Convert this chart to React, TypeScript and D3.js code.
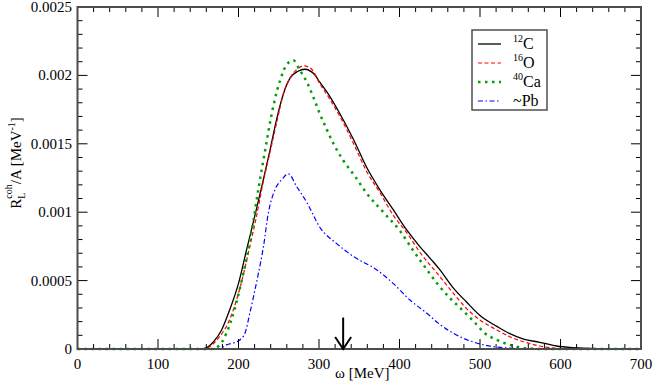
import React from 'react'
import * as d3 from 'd3'

// omega grid + response values, one pair of arrays per nucleus
const omegaC = [0, 140, 150, 158, 169, 179, 189, 200, 210, 220, 229, 239, 247, 256, 264, 274, 282, 295, 301, 312, 326, 343, 359, 376, 392, 409, 425, 440, 450, 467, 483, 500, 521, 537, 554, 574, 595, 616, 650, 700]
const valuesC = [0, 0, 0, 0.000005, 0.000053, 0.000139, 0.000285, 0.00048, 0.000724, 0.000967, 0.00119, 0.00145, 0.00167, 0.00187, 0.00198, 0.00203, 0.002045, 0.002003, 0.00195, 0.00186, 0.00172, 0.00153, 0.00133, 0.00116, 0.00102, 0.00087, 0.00075, 0.00065, 0.00058, 0.000445, 0.000345, 0.000245, 0.000165, 0.000112, 0.000073, 0.000049, 0.000022, 0.00001, 0.000003, 0]

const omegaO = [0, 155, 165, 175, 187, 200, 214, 222, 230, 240, 248, 256, 265, 274, 281, 290, 301, 313, 326, 343, 359, 376, 392, 409, 425, 450, 467, 483, 500, 521, 537, 554, 574, 595, 620, 700]
const valuesO = [0, 0, 0.00002, 0.00008, 0.000188, 0.000407, 0.000748, 0.00096, 0.0012, 0.00146, 0.00167, 0.00187, 0.00199, 0.00205, 0.00207, 0.00205, 0.00194, 0.00183, 0.0017, 0.0015, 0.0013, 0.00114, 0.00098, 0.00085, 0.00071, 0.00053, 0.000407, 0.000297, 0.000212, 0.000139, 0.00009, 0.000053, 0.000022, 0.000005, 0, 0]

const omegaCa = [0, 165, 175, 185, 196, 206, 216, 225, 233, 239, 245, 252, 260, 268, 276, 285, 293, 301, 310, 318, 330, 345, 359, 380, 401, 417, 434, 448, 463, 479, 494, 506, 521, 537, 558, 580, 700]
const valuesCa = [0, 0, 0.00002, 0.000115, 0.00031, 0.000553, 0.000846, 0.00118, 0.00145, 0.00165, 0.00182, 0.00197, 0.00208, 0.00211, 0.00204, 0.00195, 0.00184, 0.00172, 0.0016, 0.0015, 0.00138, 0.00126, 0.00114, 0.001, 0.00086, 0.00072, 0.00058, 0.00047, 0.00037, 0.00028, 0.00019, 0.000115, 0.000066, 0.00003, 0.000005, 0, 0]

const omegaPb = [0, 175, 185, 200, 208, 214, 223, 231, 237, 245, 254, 262, 272, 285, 301, 322, 343, 372, 392, 413, 434, 450, 475, 500, 525, 558, 700]
const valuesPb = [0, 0, 0.00003, 0.00006, 0.000115, 0.00026, 0.000504, 0.000748, 0.000992, 0.00116, 0.00124, 0.00128, 0.00119, 0.00107, 0.00089, 0.00077, 0.000675, 0.000577, 0.00048, 0.000358, 0.000261, 0.00018, 0.00009, 0.000037, 0.000012, 0.000003, 0.000003]

const xTicks = [0, 100, 200, 300, 400, 500, 600, 700]
const yTicks = [0, 0.0005, 0.001, 0.0015, 0.002, 0.0025]
const yTickLabels = ['0', '0.0005', '0.001', '0.0015', '0.002', '0.0025']

// arrow marking omega = 330 MeV
const arrowOmega = 330
const arrowTop = 0.00023

const series = [
  { mass: '12', elem: 'C', omega: omegaC, values: valuesC, color: '#000', dash: 'none', width: 1.3 },
  { mass: '16', elem: 'O', omega: omegaO, values: valuesO, color: '#ff0000', dash: '4 2.5', width: 1.2 },
  { mass: '40', elem: 'Ca', omega: omegaCa, values: valuesCa, color: '#00a000', dash: '2.5 4.5', width: 2.5 },
  { mass: '', elem: '~Pb', omega: omegaPb, values: valuesPb, color: '#0000ff', dash: '5 2.5 1.5 2.5', width: 1.2 },
]

const App = () => {
  const width = 654
  const height = 382

  const x = d3.scaleLinear().domain([0, 700]).range([77.5, 641])
  const y = d3.scaleLinear().domain([0, 0.0025]).range([349, 7])

  const line = d3.line<[number, number]>()
    .x(d => x(d[0]))
    .y(d => y(d[1]))
    .curve(d3.curveMonotoneX)

  const xMinor = d3.range(0, 701, 20)
  const yMinor = d3.range(0, 26).map(i => i * 0.0001)

  const frame = '#4d4d4d'

  return (
    <svg width={width} height={height}
      style={{ position: 'absolute', left: 0, top: 0, background: '#fff', fontFamily: "'Liberation Serif', 'DejaVu Serif', serif" }}>
      {/* curves */}
      {series.map(s => (
        <path key={s.elem}
          d={line(s.omega.map((o, i) => [o, s.values[i]] as [number, number])) || ''}
          fill="none" stroke={s.color} strokeWidth={s.width} strokeDasharray={s.dash} />
      ))}

      {/* ticks, bottom/top */}
      {xMinor.map(t => {
        const len = t % 100 === 0 ? 10 : 5
        return (
          <g key={'xt' + t}>
            <line x1={x(t)} x2={x(t)} y1={y(0)} y2={y(0) - len} stroke="#000" strokeWidth={1} />
            <line x1={x(t)} x2={x(t)} y1={y(0.0025)} y2={y(0.0025) + len} stroke="#000" strokeWidth={1} />
          </g>
        )
      })}
      {/* ticks, left/right */}
      {yMinor.map((t, i) => {
        const len = i % 5 === 0 ? 10 : 5
        return (
          <g key={'yt' + i}>
            <line x1={x(0)} x2={x(0) + len} y1={y(t)} y2={y(t)} stroke="#000" strokeWidth={1} />
            <line x1={x(700)} x2={x(700) - len} y1={y(t)} y2={y(t)} stroke="#000" strokeWidth={1} />
          </g>
        )
      })}

      {/* frame */}
      <rect x={x(0)} y={y(0.0025)} width={x(700) - x(0)} height={y(0) - y(0.0025)}
        fill="none" stroke={frame} strokeWidth={2} />

      {/* tick labels */}
      {xTicks.map(t => (
        <text key={'xl' + t} x={x(t)} y={369} textAnchor="middle" fontSize={15}>{t}</text>
      ))}
      {yTicks.map((t, i) => (
        <text key={'yl' + t} x={72} y={y(t) + 5} textAnchor="end" fontSize={15}>{yTickLabels[i]}</text>
      ))}

      {/* axis titles */}
      <text x={x(350) + 3} y={378} textAnchor="middle" fontSize={15}>ω [MeV]</text>
      <g transform="translate(21,163) rotate(-90)">
        <text x={0} y={0} textAnchor="middle" fontSize={15}>
          <tspan>R</tspan>
          <tspan fontSize={10} dy={4}>L</tspan>
          <tspan fontSize={10} dx={-6} dy={-13}>coh</tspan>
          <tspan dy={9}>/A [MeV</tspan>
          <tspan fontSize={10} dy={-6}>-1</tspan>
          <tspan dy={6}>]</tspan>
        </text>
      </g>

      {/* arrow */}
      <g stroke="#000" strokeWidth={2} fill="none">
        <line x1={x(arrowOmega)} x2={x(arrowOmega)} y1={y(arrowTop)} y2={y(0)} />
        <path d={`M${x(arrowOmega) - 8},${y(0) - 12} L${x(arrowOmega)},${y(0)} L${x(arrowOmega) + 8},${y(0) - 12}`} />
      </g>

      {/* legend */}
      <rect x={472} y={30} width={75} height={80} fill="#fff" stroke={frame} strokeWidth={1.5} />
      {series.map((s, i) => {
        const ly = 44 + i * 19
        return (
          <g key={'lg' + s.elem}>
            <line x1={478} x2={501} y1={ly} y2={ly} stroke={s.color} strokeWidth={s.width} strokeDasharray={s.dash} />
            <text x={513} y={ly + 5} fontSize={16}>
              {s.mass && <tspan fontSize={10} dy={-7}>{s.mass}</tspan>}
              <tspan dy={s.mass ? 7 : 0}>{s.elem}</tspan>
            </text>
          </g>
        )
      })}
    </svg>
  )
}

export default App
